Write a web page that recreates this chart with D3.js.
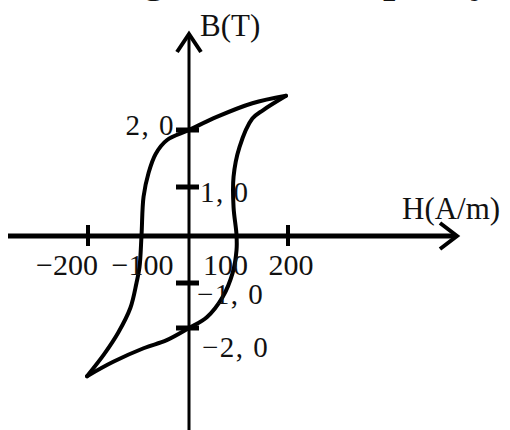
<!DOCTYPE html>
<html>
<head>
<meta charset="utf-8">
<script src="https://cdn.jsdelivr.net/npm/d3@7"></script>
<style>
  body { margin: 0; background: #fff; }
  text { font-family: "Liberation Serif", "Times New Roman", serif; fill: #111; }
</style>
</head>
<body>
<div id="chart"></div>
<script>
// Hysteresis loop (H in A/m, B in T)
const upperBranch = [
    [196, 2.6], [128, 2.47], [56, 2.23], [0, 2.0], [-44, 1.82], [-66, 1.58],
    [-80, 1.25], [-90, 0.8], [-94, 0.02], [-98, -0.66], [-104, -1.0],
    [-116, -1.55], [-140, -2.1], [-168, -2.58], [-202, -3.07]
];
const lowerBranch = [
    [-202, -3.07], [-150, -2.75], [-90, -2.45], [-44, -2.27], [0, -2.0], [36, -1.76],
    [68, -1.31], [88, -0.79], [96, -0.3], [96, 0.02], [90, 0.59], [90, 1.18],
    [102, 1.7], [128, 2.2], [150, 2.35], [196, 2.6]
];

// Ticks and their labels
const hTicks = [-200, 200];
const hLabels = [-200, -100, 100, 200];
const bTicks = [2, 1, -1, -2];
const bLabels = ["2, 0", "1, 0", "\u22121, 0", "\u22122, 0"];

const width = 510, height = 430;

const svg = d3.select("#chart")
    .append("svg")
    .attr("width", width)
    .attr("height", height);

// hand drawn axes are not quite evenly spaced, so use piecewise scales
const x = d3.scaleLinear()
    .domain([-200, 0, 200])
    .range([88, 189, 288]);

const y = d3.scaleLinear()
    .domain([-2, -1, 0, 1, 2])
    .range([328, 283, 236, 187, 130]);

// cropped heading at the very top, only the descenders show
[["g", 143], ["p", 383], ["y", 470]].forEach(([t, px]) => {
    svg.append("text")
        .attr("x", px)
        .attr("y", -8)
        .style("font-size", "44px")
        .style("font-weight", "bold")
        .text(t);
});

// x axis with arrow
svg.append("line")
    .attr("x1", 8).attr("x2", 456)
    .attr("y1", y(0)).attr("y2", y(0))
    .attr("stroke", "#000").attr("stroke-width", 5);
svg.append("path")
    .attr("d", `M440,${y(0) - 13}L457,${y(0)}L440,${y(0) + 13}`)
    .attr("fill", "none").attr("stroke", "#000").attr("stroke-width", 4);

// y axis with arrow
svg.append("line")
    .attr("x1", x(0)).attr("x2", x(0))
    .attr("y1", 34).attr("y2", height)
    .attr("stroke", "#000").attr("stroke-width", 3);
svg.append("path")
    .attr("d", `M${x(0) - 12},52L${x(0)},34L${x(0) + 12},52`)
    .attr("fill", "none").attr("stroke", "#000").attr("stroke-width", 4);

// tick marks
hTicks.forEach(v => {
    svg.append("line")
        .attr("x1", x(v)).attr("x2", x(v))
        .attr("y1", y(0) - 11).attr("y2", y(0) + 10)
        .attr("stroke", "#000").attr("stroke-width", 4);
});
bTicks.forEach(v => {
    svg.append("line")
        .attr("x1", x(0) - 13).attr("x2", x(0) + 10)
        .attr("y1", y(v)).attr("y2", y(v))
        .attr("stroke", "#000").attr("stroke-width", 5);
});

// loop
const line = d3.line()
    .x(d => x(d[0]))
    .y(d => y(d[1]))
    .curve(d3.curveCatmullRom.alpha(0.5));

[upperBranch, lowerBranch].forEach(branch => {
    svg.append("path")
        .datum(branch)
        .attr("fill", "none")
        .attr("stroke", "#000")
        .attr("stroke-width", 4)
        .attr("stroke-linejoin", "round")
        .attr("stroke-linecap", "round")
        .attr("d", line);
});

// H tick labels
const hShift = { "-200": -21, "-100": 4, "100": -13, "200": 3 };
hLabels.forEach(v => {
    svg.append("text")
        .attr("x", x(v) + hShift[v])
        .attr("y", 275)
        .attr("text-anchor", "middle")
        .style("font-size", "30px")
        .text(v < 0 ? "\u2212" + Math.abs(v) : v);
});

// B tick labels: 2,0 left of the axis, the rest right of it
bLabels.forEach((t, i) => {
    const v = bTicks[i];
    const left = v === 2;
    svg.append("text")
        .attr("x", left ? x(0) - 14 : x(0) + (v > 0 ? 11 : v === -1 ? 8 : 13))
        .attr("y", y(v) + (left ? 5 : v > 0 ? 15 : v === -1 ? 21 : 29))
        .attr("text-anchor", left ? "end" : "start")
        .style("font-size", "29px")
        .style("letter-spacing", "1.5px")
        .text(t);
});

// axis titles
svg.append("text")
    .attr("x", 200).attr("y", 36)
    .style("font-size", "31px")
    .text("B(T)");
svg.append("text")
    .attr("x", 402).attr("y", 219)
    .style("font-size", "31px")
    .text("H(A/m)");
</script>
</body>
</html>
